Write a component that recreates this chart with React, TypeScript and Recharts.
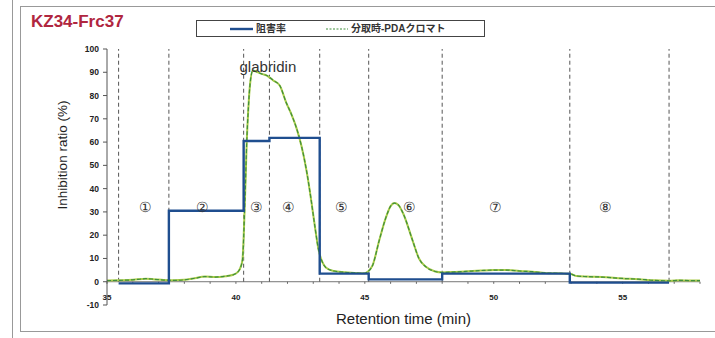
import React from 'react';
import {
  ComposedChart,
  Line,
  XAxis,
  YAxis,
  ReferenceLine,
  Scatter,
  Label,
} from 'recharts';

// PDA chromatogram recorded during fractionation (time in min, relative intensity)
const pdaTime = [
  35.0, 35.5, 36.0, 36.5, 36.8, 37.2, 37.6, 38.0, 38.4, 38.8, 39.2, 39.6, 39.9, 40.1, 40.25,
  40.35, 40.42, 40.48, 40.55, 40.66, 40.8, 41.0, 41.2, 41.45, 41.7, 41.95, 42.15, 42.35, 42.55,
  42.75, 42.92, 43.06, 43.2, 43.35, 43.5, 43.8, 44.2, 44.6, 45.0, 45.1, 45.3, 45.56, 45.8, 46.0,
  46.15, 46.3, 46.5, 46.85, 47.1, 47.37, 47.7, 48.0, 48.5, 49.0, 49.5, 50.0, 50.5, 51.0, 51.5,
  52.0, 52.5, 52.95, 53.2, 53.6, 54.2, 55.0, 55.6, 56.2, 56.8, 57.2, 57.6, 58.0,
];
const pdaValue = [
  0.5, 0.6, 0.8, 1.3, 1.1, 0.7, 0.6, 0.8, 1.5, 2.2, 2.0, 2.4, 3.0, 4.5, 9,
  35, 60, 74, 85, 90.8, 90.2, 89.3, 88.6, 86.5, 84.3, 77, 72, 66, 58,
  47, 35, 24, 14, 8.5, 6, 4.6, 4.1, 3.8, 3.6, 4.2, 7, 17.8, 27, 32.5,
  33.8, 33, 29, 17.8, 10, 6.4, 4.5, 4, 4.2, 4.5, 4.8, 5, 5, 4.6, 4.3,
  3.8, 3.6, 3.4, 2.5, 2.2, 2.0, 1.4, 1.1, 0.6, 0.4, 0.6, 0.5, 0.5,
];

// fraction boundaries (min) and inhibition ratio (%) of each fraction
const fractionBounds = [35.45, 37.4, 40.3, 41.3, 43.25, 45.15, 48.0, 52.95, 56.8];
const inhibition = [-0.7, 30.5, 60.5, 61.8, 3.5, 1.0, 3.5, -0.4];

const fractionNames = ['①', '②', '③', '④', '⑤', '⑥', '⑦', '⑧'];
const fractionCenters = [36.5, 38.7, 40.79, 42.05, 44.08, 46.73, 50.08, 54.34];
const fractionLabelY = 32;

const xTicks = [35, 40, 45, 50, 55];
const minorTicks = [36, 37, 38, 39, 41, 42, 43, 44, 46, 47, 48, 49, 51, 52, 53, 54, 56, 57, 58];
const yTicks = [-10, 0, 10, 20, 30, 40, 50, 60, 70, 80, 90, 100];

const pdaData = pdaTime.map((t, i) => ({ t, v: pdaValue[i] }));
const stepData = fractionBounds.map((t, i) => ({
  t,
  v: inhibition[Math.min(i, inhibition.length - 1)],
}));
const labelData = fractionNames.map((label, i) => ({
  t: fractionCenters[i],
  v: fractionLabelY,
  label,
}));
const peakData = [{ t: 41.24, v: 92.6, label: 'glabridin' }];

const FONT = '"Liberation Sans", Arial, sans-serif';
const BLUE = '#1F4E8F';
const GREEN = '#3F8F3A';
const GREEN_LIGHT = '#A9CB4A';

const XTick = ({ x, y, payload }: any) => (
  <text
    x={x}
    y={y - 8}
    textAnchor="middle"
    dominantBaseline="central"
    fontFamily={FONT}
    fontSize={8}
    fontWeight={700}
    fill="#222"
  >
    {payload.value}
  </text>
);

const TextMark = (size: number, weight: number) => (props: any) => (
  <text
    x={props.cx}
    y={props.cy}
    textAnchor="middle"
    dominantBaseline="central"
    fontFamily={FONT}
    fontSize={size}
    fontWeight={weight}
    fill="#333"
  >
    {props.payload.label}
  </text>
);

export default function App() {
  return (
    <div
      style={{
        position: 'fixed',
        left: 0,
        top: 0,
        width: 715,
        height: 338,
        background: '#fff',
        fontFamily: FONT,
        overflow: 'hidden',
      }}
    >
      {/* page frame */}
      <div style={{ position: 'absolute', left: 12, top: 0, width: 1, height: 338, background: '#999' }} />
      <div
        style={{
          position: 'absolute',
          left: 20,
          top: 6,
          width: 720,
          height: 324,
          border: '1px solid #999',
        }}
      />

      <ComposedChart
        width={715}
        height={338}
        margin={{ top: 49, right: 15, bottom: 13, left: 67 }}
        style={{ position: 'absolute', left: 0, top: 0 }}
      >
        <XAxis
          dataKey="t"
          type="number"
          domain={[35, 58]}
          ticks={xTicks}
          axisLine={false}
          tickLine={false}
          tickSize={0}
          tickMargin={0}
          height={20}
          tick={<XTick />}
          allowDataOverflow
        >
          <Label
            value="Retention time  (min)"
            position="bottom"
            offset={-12}
            style={{ fontFamily: FONT, fontSize: 15, fill: '#222', whiteSpace: 'pre' }}
          />
        </XAxis>
        <YAxis
          type="number"
          domain={[-10, 100]}
          ticks={yTicks}
          width={40}
          tickSize={4}
          tickMargin={4}
          stroke="#555"
          tick={{ fontFamily: FONT, fontSize: 8.5, fontWeight: 700, fill: '#222' }}
          allowDataOverflow
        >
          <Label
            value="Inhibition ratio (%)"
            angle={-90}
            position="insideLeft"
            offset={-5}
            dy={-22}
            style={{ fontFamily: FONT, fontSize: 13.5, fill: '#222', textAnchor: 'middle' }}
          />
        </YAxis>

        {/* zero line acting as the time axis */}
        <ReferenceLine y={0} stroke="#777" strokeWidth={1} />
        {[...xTicks, ...minorTicks].map((m) => (
          <ReferenceLine
            key={`tick-${m}`}
            segment={[
              { x: m, y: 0 },
              { x: m, y: -0.9 },
            ]}
            stroke="#666"
          />
        ))}

        {/* fraction dividers */}
        {fractionBounds.map((b) => (
          <ReferenceLine
            key={`div-${b}`}
            segment={[
              { x: b, y: 0 },
              { x: b, y: 100 },
            ]}
            stroke="#555"
            strokeDasharray="4 3"
          />
        ))}

        <Line
          data={pdaData}
          dataKey="v"
          type="monotone"
          stroke={GREEN_LIGHT}
          strokeWidth={2}
          dot={false}
          isAnimationActive={false}
        />
        <Line
          data={pdaData}
          dataKey="v"
          type="monotone"
          stroke={GREEN}
          strokeWidth={1.2}
          strokeDasharray="4 2"
          dot={false}
          isAnimationActive={false}
        />
        <Line
          data={stepData}
          dataKey="v"
          type="stepAfter"
          stroke={BLUE}
          strokeWidth={2.4}
          dot={false}
          isAnimationActive={false}
        />

        <Scatter data={labelData} dataKey="v" shape={TextMark(14, 400)} isAnimationActive={false} />
        <Scatter data={peakData} dataKey="v" shape={TextMark(15, 400)} isAnimationActive={false} />
      </ComposedChart>

      {/* title */}
      <div
        style={{
          position: 'absolute',
          left: 31,
          top: 12,
          fontSize: 17,
          fontWeight: 700,
          color: '#B0263F',
          lineHeight: '20px',
        }}
      >
        KZ34-Frc37
      </div>

      {/* legend */}
      <div
        style={{
          position: 'absolute',
          left: 196,
          top: 20,
          width: 287,
          height: 15,
          border: '1.5px solid #444',
          fontSize: 10,
          fontWeight: 700,
          color: '#333',
          fontFamily: `${FONT}, "Noto Sans CJK JP"`,
        }}
      >
        <svg width={287} height={15} style={{ position: 'absolute', left: 0, top: 0 }}>
          <line x1={33} x2={56} y1={8} y2={8} stroke={BLUE} strokeWidth={2.4} />
          <line x1={129} x2={151} y1={8} y2={8} stroke={GREEN} strokeWidth={1} strokeDasharray="2 1.5" />
        </svg>
        <span style={{ position: 'absolute', left: 59, top: 0, lineHeight: '15px' }}>阻害率</span>
        <span style={{ position: 'absolute', left: 154, top: 0, lineHeight: '15px' }}>分取時-PDAクロマト</span>
      </div>
    </div>
  );
}
